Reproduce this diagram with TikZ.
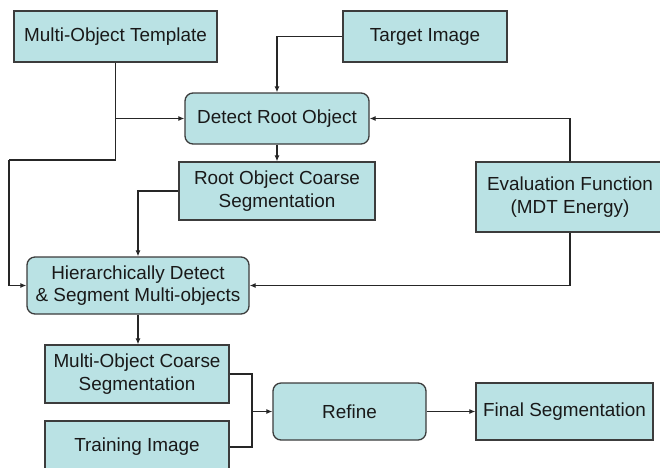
\documentclass[tikz,border=0pt]{standalone}
\usepackage{fontspec}
\setmainfont{Liberation Sans}
\usetikzlibrary{arrows.meta}
\definecolor{boxfill}{RGB}{186,226,228}
\definecolor{boxline}{RGB}{60,60,60}
\definecolor{txt}{RGB}{25,25,25}
\begin{document}
\begin{tikzpicture}[x=1pt,y=-1pt,
  box/.style={draw=boxline,line width=1.3pt,fill=boxfill,inner sep=0pt,align=center,text=txt,
    font=\fontsize{18.9}{22.5}\selectfont},
  rbox/.style={box,rounded corners=8pt},
  conn/.style={draw=black!85,line width=1.1pt},
  arr/.style={conn,-{Latex[length=6pt,width=5pt]}}]
\useasboundingbox[fill=white] (0,0) rectangle (660,467);
\node[box,minimum width=203pt,minimum height=51pt] (tmpl) at (115.5,36.5) {Multi-Object Template};
\node[box,minimum width=164pt,minimum height=51pt] (target) at (425,36.5) {Target Image};
\node[rbox,minimum width=184pt,minimum height=51pt] (detect) at (277,118.5) {Detect Root Object};
\node[box,minimum width=196pt,minimum height=58pt] (rootseg) at (277,191) {Root Object Coarse\\Segmentation};
\node[box,minimum width=188pt,minimum height=70pt] (evalf) at (570,197) {Evaluation Function\\(MDT Energy)};
\node[rbox,minimum width=222pt,minimum height=57pt] (hier) at (138,285.5) {Hierarchically Detect\\\& Segment Multi-objects};
\node[box,minimum width=184pt,minimum height=58pt] (mocs) at (137,374) {Multi-Object Coarse\\Segmentation};
\node[box,minimum width=184pt,minimum height=52pt] (train) at (137,447) {Training Image};
\node[rbox,minimum width=153pt,minimum height=57pt] (refine) at (349.5,411.5) {Refine};
\node[box,minimum width=177pt,minimum height=57pt] (final) at (564.5,411.5) {Final Segmentation};
\coordinate (t1) at (115.5,160);
\coordinate (t2) at (9,160);
\coordinate (j) at (252,411.5);
\draw[arr] (target.west) -| (detect.north);
\draw[conn] (tmpl.south) -- (t1) -- (t2);
\draw[arr] (t2) |- (hier.west);
\draw[arr] (tmpl.south |- detect.west) -- (detect.west);
\draw[arr] (detect.south) -- (rootseg.north);
\draw[arr] (rootseg.west) -| (hier.north);
\draw[arr] (evalf.north) |- (detect.east);
\draw[arr] (evalf.south) |- (hier.east);
\draw[arr] (hier.south) -- (hier.south |- mocs.north);
\draw[conn] (mocs.east) -| (j);
\draw[conn] (train.east) -| (j);
\draw[arr] (j) -- (refine.west);
\draw[arr] (refine.east) -- (final.west);
\end{tikzpicture}
\end{document}
